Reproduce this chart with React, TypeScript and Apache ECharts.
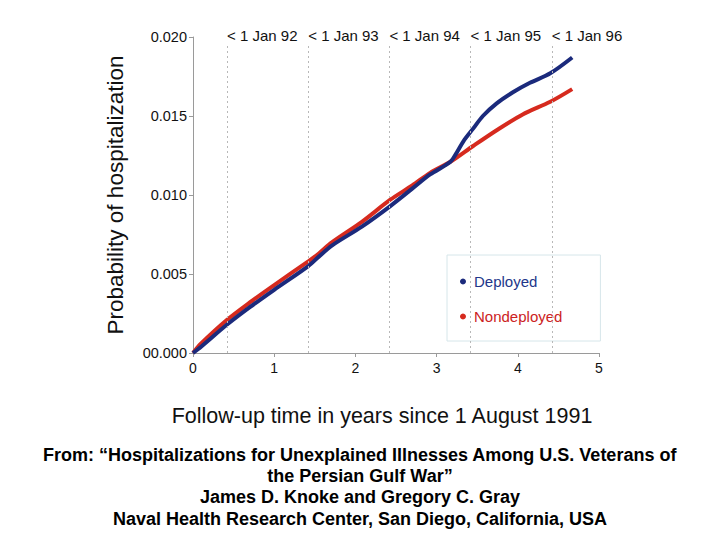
import React, { useEffect, useRef } from "react";
import * as echarts from "echarts";

const deployedData: [number, number][] = [
  [0, 0], [0.1, 0.0004], [0.42, 0.0018], [0.7, 0.0029], [1.0, 0.0040], [1.42, 0.0055],
  [1.55, 0.0061], [1.71, 0.0068], [2.08, 0.0080], [2.43, 0.0093], [2.7, 0.0104],
  [2.92, 0.0113], [3.17, 0.0121], [3.25, 0.0127], [3.33, 0.0134], [3.45, 0.0142],
  [3.57, 0.0150], [3.74, 0.0158], [3.94, 0.0165], [4.15, 0.0171], [4.40, 0.0177],
  [4.67, 0.0187],
];

const nondeployedData: [number, number][] = [
  [0, 0], [0.1, 0.0006], [0.42, 0.0021], [0.7, 0.0032], [1.0, 0.0043], [1.42, 0.0058],
  [1.55, 0.0063], [1.71, 0.0070], [2.08, 0.0083], [2.43, 0.0097], [2.7, 0.0106],
  [2.92, 0.0114], [3.17, 0.0121], [3.45, 0.0131], [3.74, 0.0141], [4.06, 0.0151],
  [4.40, 0.0159], [4.67, 0.0167],
];

const janMarks: number[] = [0.419, 1.419, 2.419, 3.419, 4.419];
const janLabels: string[] = ["< 1 Jan 92", "< 1 Jan 93", "< 1 Jan 94", "< 1 Jan 95", "< 1 Jan 96"];
const yTickLabels: Record<string, string> = {
  "0": "00.000", "0.005": "0.005", "0.01": "0.010", "0.015": "0.015", "0.02": "0.020",
};
const footerLines: string[] = [
  "From: \u201cHospitalizations for Unexplained Illnesses Among U.S. Veterans of",
  "the Persian Gulf War\u201d",
  "James D. Knoke and Gregory C. Gray",
  "Naval Health Research Center, San Diego, California, USA",
];

const BLUE = "#1b2a7c";
const RED = "#d62a1e";
const FONT = "Liberation Sans, Arial, Helvetica, sans-serif";

export default function App() {
  const ref = useRef<HTMLDivElement>(null);
  useEffect(() => {
    if (!ref.current) return;
    const chart = echarts.init(ref.current, null, { renderer: "svg" });
    const footerY = [456, 477, 498, 520];
    chart.setOption({
      animation: false,
      backgroundColor: "#ffffff",
      textStyle: { fontFamily: FONT },
      grid: { left: 193, right: 121, top: 37, bottom: 187 },
      xAxis: {
        type: "value", min: 0, max: 5, interval: 1,
        axisLine: { lineStyle: { color: "#9a9a9a", width: 1 } },
        axisTick: { show: true, length: 4, lineStyle: { color: "#9a9a9a" } },
        axisLabel: { color: "#111", fontSize: 14, margin: 8, fontFamily: FONT },
        splitLine: { show: false },
        name: "Follow-up time in years since 1 August 1991",
        nameLocation: "middle", nameGap: 52,
        nameTextStyle: { color: "#111", fontSize: 21.5, fontFamily: FONT, padding: [0, 28, 0, 0] },
      },
      yAxis: {
        type: "value", min: 0, max: 0.02, interval: 0.005,
        axisLine: { show: true, lineStyle: { color: "#9a9a9a", width: 1 } },
        axisTick: { show: true, length: 4, lineStyle: { color: "#9a9a9a" } },
        axisLabel: {
          color: "#111", fontSize: 14.5, margin: 6, fontFamily: FONT,
          formatter: (v: number) => yTickLabels[String(+v.toFixed(3))] ?? v.toFixed(3),
        },
        splitLine: { show: false },
        name: "Probability of hospitalization",
        nameLocation: "middle", nameGap: 66,
        nameTextStyle: { color: "#111", fontSize: 22.5, fontFamily: FONT },
      },
      legend: {
        orient: "vertical", left: 447, top: 255,
        padding: [19, 38, 17, 13], itemGap: 20,
        borderColor: "#d6e6ea", borderWidth: 1,
        icon: "circle", itemWidth: 6, itemHeight: 6,
        textStyle: { fontSize: 15, fontFamily: FONT, padding: [0, 0, 0, 3] },
        data: [
          { name: "Deployed", textStyle: { color: "#22368a" } },
          { name: "Nondeployed", textStyle: { color: "#cc2222" } },
        ],
      },
      series: [
        {
          name: "Nondeployed", type: "line", data: nondeployedData, showSymbol: false,
          smooth: 0.3, lineStyle: { color: RED, width: 4 }, itemStyle: { color: RED },
          z: 2,
          markLine: {
            silent: true, symbol: "none",
            lineStyle: { color: "#b8b8b8", type: [2, 3], width: 1 },
            label: {
              show: true, position: "end", color: "#111", fontSize: 15,
              fontFamily: FONT, align: "left", distance: 2,
              formatter: (p: any) => p.data && p.data.labelText ? p.data.labelText : "",
            },
            data: janMarks.map((x, i) => [
              { coord: [x, 0], labelText: janLabels[i] },
              { coord: [x, 0.0195], labelText: janLabels[i] },
            ]),
          },
        },
        {
          name: "Deployed", type: "line", data: deployedData, showSymbol: false,
          smooth: 0.3, lineStyle: { color: BLUE, width: 4 }, itemStyle: { color: BLUE },
          z: 3,
        },
      ],
      graphic: footerLines.map((t, i) => ({
        type: "text", left: "center", top: footerY[i] - 10,
        style: { text: t, fill: "#000", font: `bold 18px ${FONT}` },
      })),
    });
    return () => chart.dispose();
  }, []);
  return (
    <div
      ref={ref}
      style={{ position: "absolute", left: 0, top: 0, width: 720, height: 540, background: "#fff" }}
    />
  );
}
